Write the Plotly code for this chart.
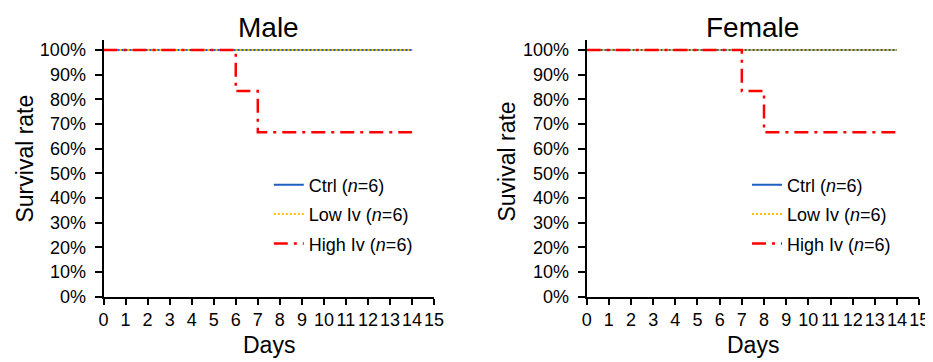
import plotly.graph_objects as go

# ---- data ----
ctrl_days = [0, 14]
ctrl_surv = [100, 100]
low_days = [0, 14]
low_surv = [100, 100]
male_high_days = [0, 6, 7, 14]
male_high_surv = [100, 83.33, 66.67, 66.67]
female_high_days = [0, 7, 8, 14]
female_high_surv = [100, 83.33, 66.67, 66.67]
series_names = ["Ctrl (<i>n</i>=6)", "Low Iv (<i>n</i>=6)", "High Iv (<i>n</i>=6)"]
panel_titles = ["Male", "Female"]
y_titles = ["Survival rate", "Suvival rate"]
x_title = "Days"
x_ticks = list(range(0, 16))
y_ticks = list(range(0, 101, 10))
y_tick_labels = [f"{v}%" for v in y_ticks]

FONT = "Liberation Sans, Arial, sans-serif"
BLUE = "#1F5FC0"
YELLOW = "#FFC000"
RED = "#FF0000"

fig = go.Figure()

panels = [
    ("x", "y", "legend", male_high_days, male_high_surv),
    ("x2", "y2", "legend2", female_high_days, female_high_surv),
]
for xa, ya, lg, hd, hs in panels:
    fig.add_trace(go.Scatter(x=ctrl_days, y=ctrl_surv, mode="lines", name=series_names[0],
                             line=dict(color=BLUE, width=2), xaxis=xa, yaxis=ya, legend=lg,
                             legendgroup=lg + "a"))
    fig.add_trace(go.Scatter(x=low_days, y=low_surv, mode="lines", name=series_names[1],
                             line=dict(color=YELLOW, width=2, dash="2px,2px"), xaxis=xa, yaxis=ya,
                             legend=lg, legendgroup=lg + "b"))
    fig.add_trace(go.Scatter(x=hd, y=hs, mode="lines", name=series_names[2], line_shape="hv",
                             line=dict(color=RED, width=2.5, dash="14px,6px,3px,6px"), xaxis=xa, yaxis=ya,
                             legend=lg, legendgroup=lg + "c"))

xdom1 = [92 / 933, 428 / 933]
xdom2 = [583 / 933, 921 / 933]
ydom = [1 - 297 / 362, 1 - 33 / 362]

xaxis_common = dict(range=[0, 15], tickmode="array", tickvals=x_ticks, ticks="outside", ticklen=6,
                    tickwidth=2, tickcolor="black", showline=True, linecolor="black", linewidth=2,
                    showgrid=False, zeroline=False, tickfont=dict(size=18, color="black", family=FONT),
                    fixedrange=True)
yaxis_common = dict(range=[0, 104], tickmode="array", tickvals=y_ticks, ticktext=y_tick_labels,
                    ticks="outside", ticklen=7, tickwidth=2, tickcolor="black", showline=True,
                    linecolor="black", linewidth=2, showgrid=False, zeroline=False, ticklabelstandoff=5,
                    tickfont=dict(size=18, color="black", family=FONT), fixedrange=True)

legend_common = dict(font=dict(size=18, color="black", family=FONT), bgcolor="rgba(0,0,0,0)",
                     borderwidth=0, traceorder="grouped", tracegroupgap=3, xanchor="left", yanchor="top")

def ann(text, x, y, size, angle=0):
    return dict(text=text, x=x, y=y, xref="paper", yref="paper", showarrow=False, textangle=angle,
                font=dict(size=size, family=FONT, color="black"), xanchor="center", yanchor="middle")

fig.update_layout(
    width=933, height=362,
    margin=dict(l=0, r=0, t=0, b=0),
    paper_bgcolor="white", plot_bgcolor="white",
    font=dict(family=FONT, color="black"),
    xaxis=dict(domain=xdom1, anchor="y", **xaxis_common),
    yaxis=dict(domain=ydom, anchor="x", **yaxis_common),
    xaxis2=dict(domain=xdom2, anchor="y2", **xaxis_common),
    yaxis2=dict(domain=ydom, anchor="x2", **yaxis_common),
    legend=dict(x=260 / 933, y=1 - 163 / 362, **legend_common),
    legend2=dict(x=746 / 933, y=1 - 163 / 362, **legend_common),
    annotations=[
        ann(panel_titles[0], (xdom1[0] + xdom1[1]) / 2, 1 - 20 / 362, 28),
        ann(panel_titles[1], (xdom2[0] + xdom2[1]) / 2, 1 - 20 / 362, 28),
        ann(x_title, (xdom1[0] + xdom1[1]) / 2, 1 - 347 / 362, 23),
        ann(x_title, (xdom2[0] + xdom2[1]) / 2, 1 - 347 / 362, 23),
        ann(y_titles[0], 12 / 933, 1 - 155 / 362, 23, -90),
        ann(y_titles[1], 502 / 933, 1 - 158 / 362, 23, -90),
    ],
)

fig.write_html("out.html")
